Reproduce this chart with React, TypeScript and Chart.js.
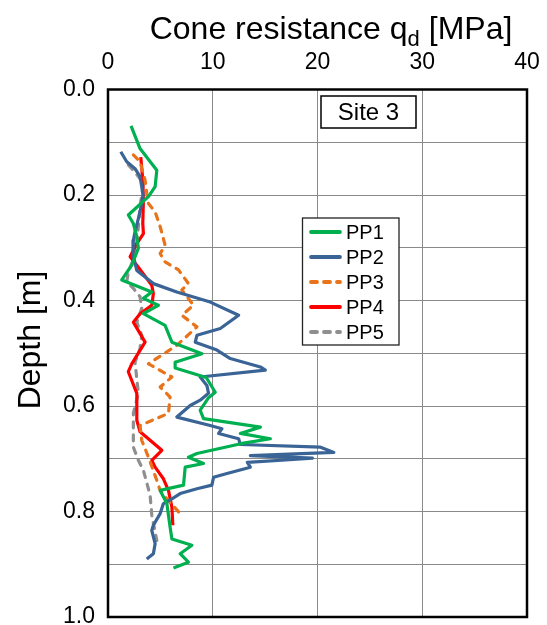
import React, { useEffect, useRef } from "react";
import { Chart, registerables } from "chart.js";

Chart.register(...registerables);

const FONT = '"Liberation Sans", Arial, Helvetica, sans-serif';

// ---- data ----
const seriesLabels = ["PP1", "PP2", "PP3", "PP4", "PP5"];
const seriesColors = ["#00B050", "#3A6496", "#E8731A", "#FF0000", "#8F8F8F"];
const seriesDashes: number[][] = [[], [], [6, 7], [], [6, 7]];

const xTickValues = [0, 10, 20, 30, 40];
const yTickLabels = ["0.0", "0.2", "0.4", "0.6", "0.8", "1.0"];

const pp1Depth = [0.069, 0.112, 0.153, 0.184, 0.203, 0.238, 0.254, 0.279, 0.301, 0.333, 0.361, 0.384, 0.396, 0.409, 0.425, 0.447, 0.479, 0.501, 0.517, 0.528, 0.546, 0.574, 0.585, 0.608, 0.624, 0.640, 0.652, 0.662, 0.671, 0.690, 0.697, 0.709, 0.716, 0.750, 0.760, 0.785, 0.830, 0.852, 0.864, 0.880, 0.896, 0.907];
const pp1Qd = [2.2, 3.06, 4.66, 4.5, 3.86, 1.94, 2.42, 2.75, 2.9, 2.27, 1.31, 4.18, 3.38, 4.81, 3.38, 5.45, 6.1, 8.97, 6.41, 6.41, 9.38, 10.24, 9.57, 8.8, 9.12, 14.55, 12.63, 15.5, 12.79, 8.49, 7.68, 9.12, 7.37, 7.21, 4.98, 5.62, 5.93, 6.1, 8.01, 6.89, 7.68, 6.25];

const pp2Depth = [0.118, 0.137, 0.150, 0.165, 0.200, 0.232, 0.270, 0.286, 0.314, 0.343, 0.368, 0.384, 0.403, 0.428, 0.453, 0.466, 0.479, 0.494, 0.510, 0.526, 0.532, 0.545, 0.561, 0.576, 0.589, 0.599, 0.621, 0.637, 0.643, 0.652, 0.662, 0.673, 0.678, 0.688, 0.694, 0.699, 0.707, 0.716, 0.728, 0.735, 0.750, 0.757, 0.766, 0.776, 0.785, 0.804, 0.826, 0.836, 0.861, 0.880, 0.890];
const pp2Qd = [1.22, 1.79, 2.58, 3.06, 3.35, 3.06, 2.58, 2.42, 2.39, 2.75, 4.33, 6.57, 9.76, 12.47, 10.72, 8.49, 8.33, 10.4, 11.67, 14.55, 15.02, 8.8, 9.44, 9.6, 8.8, 7.85, 6.57, 9.76, 10.88, 10.56, 12.47, 12.63, 20.29, 21.56, 13.59, 19.52, 13.3, 13.59, 11.36, 10.08, 9.92, 8.49, 6.89, 6.1, 5.29, 4.98, 4.33, 4.18, 4.5, 4.33, 3.7];

const pp3Depth = [0.124, 0.137, 0.172, 0.197, 0.216, 0.232, 0.260, 0.295, 0.311, 0.327, 0.342, 0.368, 0.380, 0.409, 0.428, 0.450, 0.485, 0.520, 0.545, 0.564, 0.583, 0.614, 0.637, 0.665, 0.697, 0.741, 0.760, 0.776, 0.804];
const pp3Qd = [2.42, 3.06, 3.54, 3.7, 3.86, 4.5, 4.98, 5.45, 4.98, 5.45, 6.73, 7.68, 7.05, 8.16, 7.05, 8.49, 6.57, 3.86, 6.1, 4.98, 5.93, 5.77, 3.06, 3.22, 3.86, 4.66, 4.98, 5.62, 6.89];

const pp4Depth = [0.128, 0.172, 0.210, 0.254, 0.273, 0.292, 0.317, 0.333, 0.371, 0.387, 0.409, 0.425, 0.441, 0.479, 0.520, 0.535, 0.576, 0.627, 0.649, 0.665, 0.684, 0.703, 0.716, 0.738, 0.760, 0.792, 0.826];
const pp4Qd = [3.13, 3.32, 3.38, 3.32, 3.38, 2.75, 2.11, 2.75, 4.18, 4.33, 4.18, 3.06, 2.42, 3.54, 2.27, 1.94, 2.75, 2.75, 3.06, 4.02, 5.14, 4.18, 4.5, 5.29, 5.77, 6.1, 6.19];

const pp5Depth = [0.143, 0.153, 0.165, 0.178, 0.200, 0.222, 0.260, 0.289, 0.314, 0.346, 0.365, 0.377, 0.393, 0.415, 0.441, 0.466, 0.491, 0.517, 0.576, 0.614, 0.646, 0.678, 0.703, 0.722, 0.769, 0.807, 0.855];
const pp5Qd = [1.94, 2.42, 2.9, 3.38, 3.22, 3.06, 2.9, 2.75, 2.58, 1.94, 1.79, 2.42, 3.06, 3.22, 2.75, 3.22, 3.06, 2.58, 2.9, 2.42, 2.42, 2.42, 2.9, 3.38, 4.02, 4.18, 4.66];

const siteLabel = "Site 3";
const xTitleMain = "Cone resistance q";
const xTitleSub = "d";
const xTitleEnd = " [MPa]";
const yTitle = "Depth [m]";

const depthSeries = [pp1Depth, pp2Depth, pp3Depth, pp4Depth, pp5Depth];
const qdSeries = [pp1Qd, pp2Qd, pp3Qd, pp4Qd, pp5Qd];

const decorPlugin = {
  id: "decor",
  beforeDatasetsDraw(chart: any) {
    const { ctx, chartArea: a } = chart;
    ctx.save();
    ctx.strokeStyle = "#000";
    ctx.lineWidth = 2.5;
    ctx.strokeRect(a.left, a.top, a.right - a.left, a.bottom - a.top);
    ctx.restore();
  },
  afterDatasetsDraw(chart: any) {
    const { ctx } = chart;
    ctx.save();
    // Site box
    ctx.fillStyle = "#fff";
    ctx.fillRect(321, 96, 95, 32);
    ctx.strokeStyle = "#000";
    ctx.lineWidth = 1.5;
    ctx.strokeRect(321, 96, 95, 32);
    ctx.fillStyle = "#000";
    ctx.font = `24px ${FONT}`;
    ctx.textAlign = "center";
    ctx.textBaseline = "middle";
    ctx.fillText(siteLabel, 368.5, 113);

    // Legend
    const lx = 302.5, ly = 218, lw = 96.5, lh = 127;
    ctx.fillStyle = "#fff";
    ctx.fillRect(lx, ly, lw, lh);
    ctx.strokeStyle = "#222";
    ctx.lineWidth = 1.3;
    ctx.strokeRect(lx, ly, lw, lh);
    ctx.font = `20px ${FONT}`;
    ctx.textAlign = "left";
    ctx.textBaseline = "middle";
    chart.data.datasets.forEach((ds: any, i: number) => {
      const y = 232 + i * 25;
      ctx.save();
      ctx.strokeStyle = ds.borderColor;
      ctx.lineWidth = 3.8;
      ctx.lineCap = "round";
      ctx.setLineDash(ds.borderDash || []);
      ctx.beginPath();
      ctx.moveTo(311, y);
      ctx.lineTo(340, y);
      ctx.stroke();
      ctx.restore();
      ctx.fillStyle = "#000";
      ctx.fillText(ds.label, 346, y + 1);
    });
    ctx.restore();
  },
  afterDraw(chart: any) {
    const { ctx } = chart;
    ctx.save();
    ctx.fillStyle = "#000";
    ctx.textBaseline = "alphabetic";
    ctx.textAlign = "left";
    ctx.font = `32px ${FONT}`;
    const w1 = ctx.measureText(xTitleMain).width;
    const w3 = ctx.measureText(xTitleEnd).width;
    ctx.font = `22px ${FONT}`;
    const w2 = ctx.measureText(xTitleSub).width;
    const total = w1 + w2 + w3;
    let x = 331 - total / 2;
    const base = 39;
    ctx.font = `32px ${FONT}`;
    ctx.fillText(xTitleMain, x, base);
    x += w1;
    ctx.font = `22px ${FONT}`;
    ctx.fillText(xTitleSub, x, base + 7);
    x += w2;
    ctx.font = `32px ${FONT}`;
    ctx.fillText(xTitleEnd, x, base);

    ctx.translate(31, 340);
    ctx.rotate(-Math.PI / 2);
    ctx.textAlign = "center";
    ctx.textBaseline = "middle";
    ctx.font = `32px ${FONT}`;
    ctx.fillText(yTitle, 0, 0);
    ctx.restore();
  },
};

export default function App() {
  const canvasRef = useRef<HTMLCanvasElement | null>(null);

  useEffect(() => {
    if (!canvasRef.current) return;
    const datasets = seriesLabels.map((label, i) => ({
      label,
      data: depthSeries[i].map((d, j) => ({ x: qdSeries[i][j], y: d })),
      borderColor: seriesColors[i],
      backgroundColor: seriesColors[i],
      borderWidth: 3.2,
      borderDash: seriesDashes[i],
      borderCapStyle: seriesDashes[i].length ? "round" : "butt",
      borderJoinStyle: "round",
      showLine: true,
      pointRadius: 0,
      pointHoverRadius: 0,
      tension: 0,
    }));

    const chart = new Chart(canvasRef.current, {
      type: "scatter",
      data: { datasets } as any,
      options: {
        responsive: false,
        animation: false,
        layout: { padding: { top: 0, left: 0, right: 20, bottom: 8 } },
        plugins: {
          legend: { display: false },
          tooltip: { enabled: false },
        },
        scales: {
          x: {
            type: "linear",
            position: "top",
            min: xTickValues[0],
            max: xTickValues[xTickValues.length - 1],
            afterBuildTicks: (scale: any) => {
              scale.ticks = xTickValues.map((v) => ({ value: v }));
            },
            afterFit: (scale: any) => {
              scale.height = 89.5;
              scale.paddingLeft = 0;
              scale.paddingRight = 0;
            },
            ticks: {
              font: { family: FONT, size: 23 },
              color: "#000",
              padding: 13,
              maxRotation: 0,
              callback: (v: any) => String(v),
            },
            grid: { color: "#8a8a8a", lineWidth: 1, drawTicks: false },
            border: { display: false },
          },
          y: {
            type: "linear",
            reverse: true,
            min: 0,
            max: 1,
            afterBuildTicks: (scale: any) => {
              const t = [];
              for (let i = 0; i <= 10; i++) t.push({ value: i / 10 });
              scale.ticks = t;
            },
            afterFit: (scale: any) => {
              scale.width = 108;
              scale.paddingTop = 0;
              scale.paddingBottom = 0;
            },
            ticks: {
              font: { family: FONT, size: 23 },
              color: "#000",
              padding: 13,
              autoSkip: false,
              callback: (_v: any, i: number) => (i % 2 === 0 ? yTickLabels[i / 2] : ""),
            },
            grid: { color: "#8a8a8a", lineWidth: 1, drawTicks: false },
            border: { display: false },
          },
        },
      } as any,
      plugins: [decorPlugin],
    });
    return () => chart.destroy();
  }, []);

  return (
    <div style={{ position: "absolute", left: 0, top: 0, width: 547, height: 625, background: "#fff" }}>
      <canvas ref={canvasRef} width={547} height={625} style={{ display: "block" }} />
    </div>
  );
}
